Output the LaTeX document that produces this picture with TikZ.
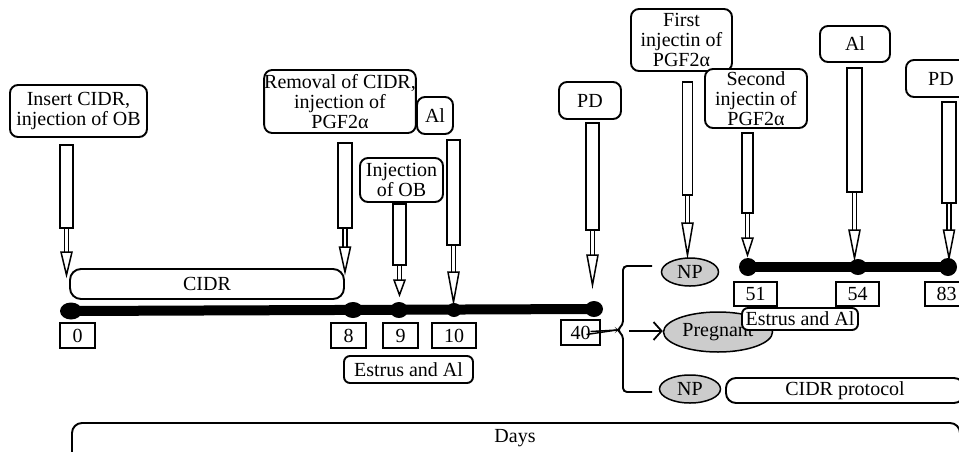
\documentclass[tikz,border=0pt]{standalone}
\usepackage{fontspec}
\setmainfont{Liberation Serif}
\usetikzlibrary{shapes.geometric,arrows.meta}
\tikzset{
  every node/.style={font=\fontsize{20}{20}\selectfont},
  box/.style={draw, line width=1.9, rounded corners=8, fill=white, align=center, inner sep=0},
  numbox/.style={draw, line width=1.5, fill=white, inner sep=0},
  npell/.style={ellipse, draw, fill=gray!40, line width=1.5, inner sep=0},
  tdot/.style={ellipse, fill=black, inner sep=0},
  syr/.style={line width=1.5, fill=white},
}
\newcommand\syr[6]{%
  \draw[syr] ({#1-#6},#2) rectangle ({#1+#6},#3);
  \draw[syr] ({#1-2},#3) -- ({#1-2},#4) ({#1+2},#3) -- ({#1+2},#4);
  \draw[syr] ({#1-5.5},#4) -- ({#1+5.5},#4) -- (#1,#5) -- cycle;}
\begin{document}
\begin{tikzpicture}[x=1pt,y=-1pt]
\useasboundingbox (0,0) rectangle (959,451);
\clip (0,0) rectangle (959,451);
\fill[white] (0,0) rectangle (959,451);

% top boxes
\node[box, minimum width=137, minimum height=52] (b1) at (78.5,111) {Insert CIDR,\\injection of OB};
\node[box, minimum width=150, minimum height=63] (b2) at (340,101.5) {Removal of CIDR,\\injection of\\PGF2α};
\node[box, minimum width=36, minimum height=37] (b3) at (435,115.5) {Al};
\node[box, minimum width=83, minimum height=44] (b4) at (401.5,180) {Injection\\of OB};
\node[box, minimum width=62, minimum height=37] (b5) at (590,100.5) {PD};
\node[box, minimum width=101, minimum height=62] (b6) at (681.5,40) {First\\injectin of\\PGF2α};
\node[box, minimum width=102, minimum height=59] (b7) at (756,98.5) {Second\\injectin of\\PGF2α};
\node[box, minimum width=70, minimum height=36] (b8) at (855,44) {Al};
\node[box, minimum width=70, minimum height=37] (b9) at (941,78.5) {PD};

% syringes
\syr{66.5}{145}{228}{252}{275}{6.5}
\syr{345}{143}{228}{247}{272}{7}
\syr{399.5}{204}{265}{280}{295}{6.5}
\syr{453.5}{140}{245}{272}{302}{6.5}
\syr{592.5}{123}{230}{255}{285}{6.5}
\syr{687.5}{82}{195}{223}{255}{5}
\syr{747.5}{133}{213}{238}{255}{5.5}
\syr{854.5}{68}{192}{230}{258}{7.5}
\syr{949}{102}{203}{230}{258}{7}

% CIDR box
\node[box, rounded corners=11, minimum width=274, minimum height=30] (cidr) at (207,284) {CIDR};

% timeline 1
\node[tdot, minimum width=22, minimum height=17] (d0) at (71,311) {};
\node[tdot, minimum width=20, minimum height=16] (d8) at (353,310) {};
\node[tdot, minimum width=18, minimum height=16] (d9) at (399,310) {};
\node[tdot, minimum width=15, minimum height=14] (d10) at (454,310) {};
\node[tdot, minimum width=18, minimum height=16] (d40) at (594,309) {};
\draw[line width=10] (d0.center) -- (d40.center);

\node[numbox, minimum width=35, minimum height=25] (n0) at (77.5,335.5) {0};
\node[numbox, minimum width=35, minimum height=25] (n8) at (348.5,335.5) {8};
\node[numbox, minimum width=35, minimum height=25] (n9) at (400.5,335.5) {9};
\node[numbox, minimum width=44, minimum height=25] (n10) at (454,335.5) {10};
\node[numbox, minimum width=39, minimum height=25] (n40) at (580.5,332.5) {40};
\node[box, rounded corners=6, minimum width=129, minimum height=27] (e1) at (408.5,369.5) {Estrus and Al};

% outcomes
\node[npell, minimum width=57, minimum height=28] (np1) at (690,272) {NP};
\node[npell, minimum width=109, minimum height=40] (preg) at (718,332) {Pregnant};
\node[npell, minimum width=61, minimum height=28] (np2) at (690,389) {NP};
\coordinate (cusp) at (617,330);
\coordinate (bstart) at (629,331);
\draw[line width=1.9, rounded corners=4] (652,266) -- (623,266) -- (623,325) -- (cusp) -- (623,335) -- (623,392) -- (652,392);
\draw[line width=1.4] ([xshift=6,yshift=-2]n40.center) -- (cusp);
\draw[line width=1.4] ([xshift=10,yshift=1]n40.center) -- (cusp);
\draw[line width=1.5, -{Straight Barb[length=8,width=18,line width=1.8]}] (bstart) -- (preg.west |- bstart);

% timeline 2
\node[tdot, minimum width=18, minimum height=18] (d51) at (748,267) {};
\node[tdot, minimum width=18, minimum height=16] (d54) at (858,267) {};
\node[tdot, minimum width=18, minimum height=18] (d83) at (948,267) {};
\draw[line width=10] (d51.center) -- (d83.center);
\node[numbox, minimum width=43, minimum height=24] (n51) at (755.5,294) {51};
\node[numbox, minimum width=43, minimum height=24] (n54) at (857.5,294) {54};
\node[numbox, minimum width=43, minimum height=24] (n83) at (946.5,294) {83};
\node[box, rounded corners=6, minimum width=116, minimum height=22] (e2) at (800,319) {Estrus and Al};
\node[box, rounded corners=10, minimum width=238, minimum height=25] (cp) at (845,390.5) {CIDR protocol};

% days
\node[box, rounded corners=10, minimum width=888, minimum height=40] (days) at (516,443) {};
\node (dayst) at (515,438) {Days};
\end{tikzpicture}
\end{document}
